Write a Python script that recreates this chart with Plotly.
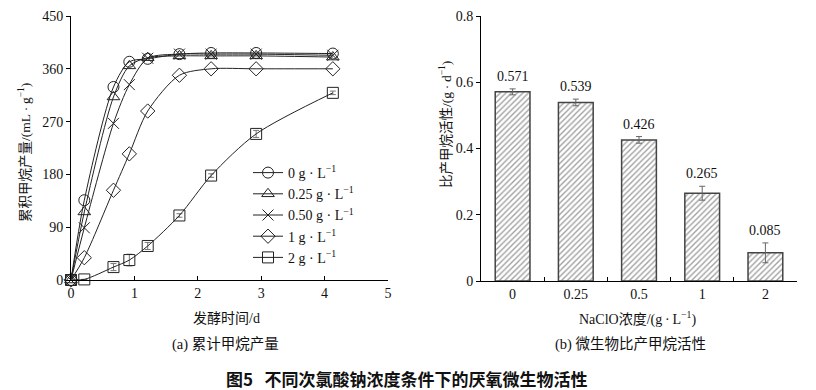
import plotly.graph_objects as go

# ---- data (a) cumulative methane production ----
time_d = [0, 0.21, 0.67, 0.92, 1.21, 1.71, 2.21, 2.92, 4.13]
s_0 = [0, 136, 329, 372, 377, 385, 387, 387, 386]
s_025 = [0, 116, 312, 365, 379, 382, 382, 382, 380]
s_050 = [0, 89, 267, 333, 378, 385, 385, 385, 383]
s_1 = [0, 38, 153, 215, 288, 349, 360, 360, 360]
s_2 = [0, 1, 22, 34, 58, 110, 178, 249, 319]
err_2 = [0, 0, 6, 10, 6, 3, 3, 6, 3]
series_names = ["0 g · L<sup>−1</sup>", "0.25 g · L<sup>−1</sup>", "0.50 g · L<sup>−1</sup>",
                "1 g · L<sup>−1</sup>", "2 g · L<sup>−1</sup>"]
series_symbols = ["circle-open", "triangle-up-open", "x-thin-open", "diamond-open", "square-open"]

# ---- data (b) specific methanogenic activity ----
naclo = ["0", "0.25", "0.5", "1", "2"]
activity = [0.571, 0.539, 0.426, 0.265, 0.085]
activity_err = [0.009, 0.010, 0.010, 0.021, 0.030]

y_ticks_a = [0, 90, 180, 270, 360, 450]
x_ticks_a = [0, 1, 2, 3, 4, 5]
y_ticks_b = [0, 0.2, 0.4, 0.6, 0.8]

FONT = "Liberation Serif, Noto Sans CJK SC"
INK = "#222222"

fig = go.Figure()

all_series = [s_0, s_025, s_050, s_1, s_2]
for i, (vals, name, sym) in enumerate(zip(all_series, series_names, series_symbols)):
    kw = {}
    if i == 4:
        kw["error_y"] = dict(type="data", array=err_2, color="#777", thickness=1, width=3)
    fig.add_trace(go.Scatter(
        x=time_d, y=vals, name=name, mode="lines+markers",
        line=dict(color=INK, width=1, shape="spline", smoothing=0.8),
        marker=dict(symbol=sym, size=11, color=INK, line=dict(color=INK, width=1)),
        cliponaxis=False, legendgroup=f"g{i}", xaxis="x", yaxis="y", **kw))

fig.add_trace(go.Bar(
    x=list(range(len(naclo))), y=activity, width=0.55, showlegend=False,
    marker=dict(color="white", line=dict(color="#444", width=1.5),
                pattern=dict(shape="/", fgcolor="#444", bgcolor="white", size=4, solidity=0.35)),
    error_y=dict(type="data", array=activity_err, color="#666", thickness=1, width=3),
    xaxis="x2", yaxis="y2"))

annotations = []
for i, (v, e) in enumerate(zip(activity, activity_err)):
    annotations.append(dict(x=i, y=v + e, xref="x2", yref="y2", text=f"{v:.3f}",
                            showarrow=False, yanchor="bottom", yshift=3,
                            font=dict(family=FONT, size=14, color="#111")))

def txt(x, y, t, size=14, angle=0, bold=False):
    annotations.append(dict(x=x / 816, y=1 - y / 390, xref="paper", yref="paper", text=t,
                            showarrow=False, textangle=angle, xanchor="center", yanchor="middle",
                            font=dict(family=("Noto Sans CJK SC" if bold else FONT),
                                      size=size, color="#111")))

DOT = "\u2009·\u2009"
txt(25, 153, f"累积甲烷产量/(mL{DOT}g<sup>−1</sup>)", 13.5, -90)
txt(226, 318, "发酵时间/d", 14)
txt(225, 344, "(a) 累计甲烷产量", 14.5)
txt(446, 124, f"比产甲烷活性/(g{DOT}d<sup>−1</sup>)", 13.5, -90)
txt(637, 318, f"NaClO浓度/(g{DOT}L<sup>−1</sup>)", 14)
txt(630, 344, "(b) 微生物比产甲烷活性", 14.5)
txt(407, 378, "<b>图5   不同次氯酸钠浓度条件下的厌氧微生物活性</b>", 17, 0, True)

axis_common = dict(showline=True, linecolor="black", linewidth=1, showgrid=False, zeroline=False,
                   automargin=False,
                   tickfont=dict(family=FONT, size=14, color="#111"), tickcolor="black", ticklen=4)

fig.update_layout(
    width=816, height=390, margin=dict(l=0, r=0, t=0, b=0, autoexpand=False),
    paper_bgcolor="white", plot_bgcolor="white",
    font=dict(family=FONT, size=13, color="#111"),
    xaxis=dict(domain=[71 / 816, 388 / 816], range=[0, 5], tickvals=x_ticks_a, ticks="inside",
               anchor="y", **axis_common),
    yaxis=dict(domain=[1 - 280 / 390, 1 - 16 / 390], range=[0, 450], tickvals=y_ticks_a,
               ticks="outside", anchor="x", **axis_common),
    xaxis2=dict(domain=[481 / 816, 797 / 816], range=[-0.5, 4.5],
                tickvals=list(range(len(naclo))), ticktext=naclo,
                ticks="", anchor="y2", **axis_common),
    yaxis2=dict(domain=[1 - 281 / 390, 1 - 16 / 390], range=[0, 0.8], tickvals=y_ticks_b,
                ticktext=["0", "0.2", "0.4", "0.6", "0.8"],
                ticks="outside", anchor="x2", **axis_common),
    xaxis3=dict(domain=[481 / 816, 797 / 816], range=[-0.5, 4.5], overlaying="x2",
                tickvals=[0.5, 1.5, 2.5, 3.5], showticklabels=False, ticks="inside",
                anchor="y2", showline=False, showgrid=False, zeroline=False, automargin=False,
                tickcolor="black", ticklen=4),
    legend=dict(x=248 / 816, y=1 - 157 / 390, xanchor="left", yanchor="top",
                bgcolor="rgba(0,0,0,0)", traceorder="grouped", tracegroupgap=0,
                font=dict(family=FONT, size=14, color="#111")),
    annotations=annotations,
)
# invisible trace so the boundary-tick axis is drawn
fig.add_trace(go.Scatter(x=[None], y=[None], xaxis="x3", yaxis="y2", showlegend=False))

fig.write_html("out.html", config={"displayModeBar": False},
               post_script="document.body.style.margin='0';")
